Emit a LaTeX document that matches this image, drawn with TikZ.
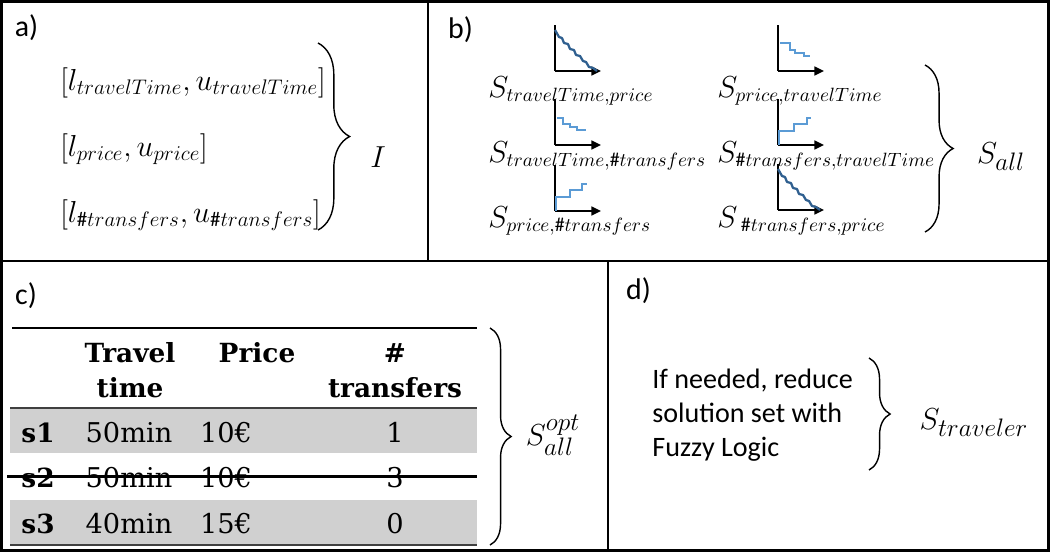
\documentclass[tikz,border=0pt]{standalone}
\usepackage{fontspec}
\setmainfont{Carlito}
\newfontfamily\tabfont{DejaVu Serif}
\usetikzlibrary{arrows.meta,decorations.pathreplacing}
\definecolor{darkcurve}{HTML}{2F5F8F}
\definecolor{lightcurve}{HTML}{5B9BD5}
\definecolor{rowgray}{HTML}{D0D0D0}
\DeclareMathSizes{18}{18}{11.3}{9}

\begin{document}
\begin{tikzpicture}[x=0.02cm,y=-0.02cm,
  panel/.style={font=\fontsize{17}{20}\selectfont,inner sep=0pt},
  bigmath/.style={font=\fontsize{17}{20}\selectfont,inner sep=0pt},
  setlbl/.style={font=\fontsize{18}{21}\selectfont,inner sep=0pt,anchor=base west},
  cell/.style={font=\tabfont\fontsize{15.5}{18}\selectfont,inner sep=0pt,anchor=base},
  head/.style={cell,font=\tabfont\bfseries\fontsize{15}{18}\selectfont},
  axis/.style={line width=1.2pt,-{Triangle[length=5.5pt,width=5pt]}},
  jagged/.style={darkcurve,line width=1.3pt,line join=round},
  stairs/.style={lightcurve,line width=1.3pt},
  curly/.style={decorate,decoration={brace,amplitude=#1},line width=0.8pt}]
\useasboundingbox (0,0) rectangle (1050,552);
% frame and panels
\draw[line width=1.7pt] (1.5,1.5) rectangle (1048.5,550);
\draw[line width=0.9pt] (0,261)--(1050,261);
\draw[line width=0.9pt] (428,0)--(428,261);
\draw[line width=0.9pt] (608,261)--(608,552);

% a) intervals
\node[panel] (la) at (26.5,27.5) {a)};
\node[bigmath,anchor=base west] (itime) at (60,90) {$[l_{travelTime},u_{travelTime}]$};
\node[bigmath,anchor=base west] (iprice) at (60,156) {$[l_{price},u_{price}]$};
\node[bigmath,anchor=base west] (itrans) at (60,222) {$[l_{\#transfers},u_{\#transfers}]$};
\coordinate (atop) at (318,43);\coordinate (abot) at (318,230);
\draw[curly=18pt] (atop)--(abot);
\node[bigmath] (iset) at (378,157.5) {$I$};

% b) solution sets
\node[panel] (lb) at (460.5,29.5) {b)};
\foreach \ox/\oy in {555/71,555/145,555/211,778/71,778/145,778/210}
  \draw[axis] (\ox,\oy)--(\ox,\oy-46) (\ox,\oy)--(\ox+46,\oy);
\draw[jagged,shift={(555,71)}] (0,-41)--(4,-34)--(7,-33)--(9,-28)--(13,-27)--(15,-22)--(19,-21)--(21,-16)--(25,-15)--(28,-10)--(31,-9)--(34,-4)--(38,-3)--(42,0);
\draw[stairs,shift={(555,145)}] (2,-27)--(8,-27)--(8,-21)--(15,-21)--(15,-18)--(22,-18)--(22,-15)--(31,-15);
\draw[stairs,shift={(555,211)}] (1,0)--(1,-14)--(15,-14)--(15,-21)--(27,-21)--(27,-27)--(32,-27);
\draw[stairs,shift={(778,71)}] (2,-28)--(12,-28)--(12,-21)--(17,-21)--(17,-18)--(26,-18)--(26,-15)--(32,-15);
\draw[stairs,shift={(778,145)}] (1,0)--(1,-14)--(16,-14)--(16,-21)--(29,-21)--(29,-27)--(33,-27);
\draw[jagged,shift={(778,210)}] (0,-41)--(4,-34)--(7,-33)--(9,-28)--(13,-27)--(15,-22)--(19,-21)--(21,-16)--(25,-15)--(28,-10)--(31,-9)--(34,-4)--(38,-3)--(42,0);
\node[setlbl] (stp) at (488,97) {$S_{travelTime,price}$};
\node[setlbl] (stt) at (488,162) {$S_{travelTime,\#transfers}$};
\node[setlbl] (spt) at (488,227) {$S_{price,\#transfers}$};
\node[setlbl] (spr) at (717,97) {$S_{price,travelTime}$};
\node[setlbl] (str) at (717,162) {$S_{\#transfers,travelTime}$};
\node[setlbl] (stp2) at (717,227) {$S_{\;\#transfers,price}$};
\coordinate (btop) at (925,65);\coordinate (bbot) at (925,232);
\draw[curly=16pt] (btop)--(bbot);
\node[bigmath,font=\fontsize{19}{22}\selectfont] (sall) at (1001,157) {$S_{all}$};

% c) table
\node[panel] (lc) at (26,296) {c)};
\fill[rowgray] (10,408) rectangle (477,453);
\fill[rowgray] (10,500) rectangle (477,545);
\draw[line width=0.9pt] (12,328)--(477,328);
\draw[line width=1.1pt,black!75] (10,408)--(477,408);
\draw[line width=1.1pt,black!75] (10,545)--(477,545);
\node[head] (htr) at (130,362) {Travel};
\node[head] (hti) at (130,397) {time};
\node[head] (hpr) at (257,362) {Price};
\node[head] (hno) at (395,362) {\#};
\node[head] (htf) at (395,397) {transfers};
\node[head] (s1) at (38,442) {s1};
\node[cell] (t1) at (129,442) {50min};
\node[cell] (p1) at (226,442) {10€};
\node[cell] (n1) at (395,442) {1};
\node[head] (s2) at (38,487) {s2};
\node[cell] (t2) at (129,487) {50min};
\node[cell] (p2) at (226,487) {10€};
\node[cell] (n2) at (395,487) {3};
\node[head] (s3) at (38,533) {s3};
\node[cell] (t3) at (129,533) {40min};
\node[cell] (p3) at (226,533) {15€};
\node[cell] (n3) at (395,533) {0};
\draw[line width=1.7pt] (7,476)--(477,476);
\coordinate (ctop) at (490,328);\coordinate (cbot) at (490,545);
\draw[curly=12pt] (ctop)--(cbot);
\node[bigmath,font=\fontsize{19}{22}\selectfont] (sopt) at (553,435) {$S_{all}^{opt}$};

% d) fuzzy logic
\node[panel] (ld) at (638.5,291) {d)};
\node[font=\fontsize{16}{19.3}\selectfont,align=left,anchor=west,inner sep=0pt] (fuzzy) at (652,415) {If needed, reduce\\solution set with\\Fuzzy Logic};
\coordinate (dtop) at (869,358);\coordinate (dbot) at (869,470);
\draw[curly=12pt] (dtop)--(dbot);
\node[bigmath,font=\fontsize{19}{22}\selectfont] (strav) at (974,423) {$S_{traveler}$};
\end{tikzpicture}
\end{document}
